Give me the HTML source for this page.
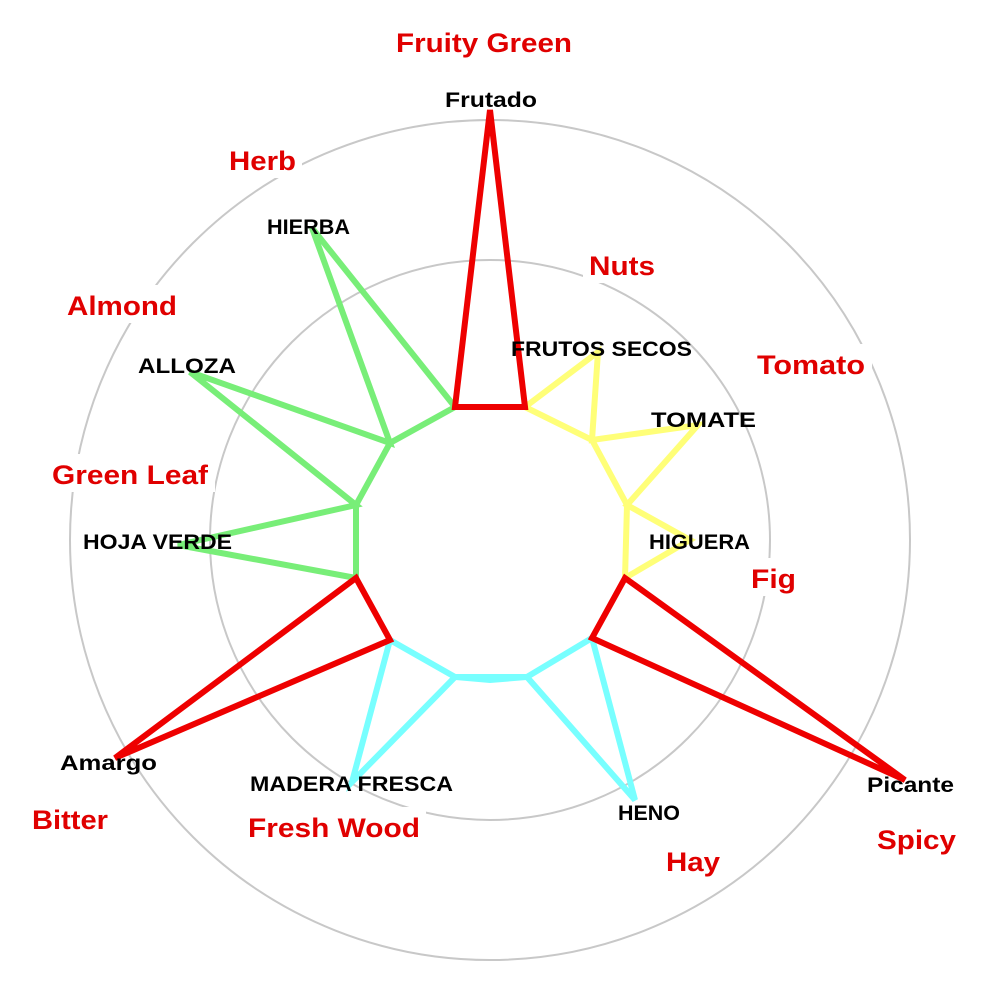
<!DOCTYPE html>
<html><head><style>
body{margin:0;background:#fff}
svg text{font-family:"Liberation Sans",Arial,sans-serif}
.r text{fill:#e00000;font-weight:bold;font-size:27px}
.k text{fill:#000;font-size:21px;font-weight:bold}
</style></head><body>
<svg width="1000" height="1000" viewBox="0 0 1000 1000">
<rect width="1000" height="1000" fill="#fff"/>
<g fill="none" stroke="#c8c8c8" stroke-width="2">
<circle cx="490" cy="540" r="420"/>
<circle cx="490" cy="540" r="280"/>
</g>
<g fill="#fff">
<rect x="390" y="22" width="190" height="38"/>
<rect x="222" y="140" width="80" height="38"/>
<rect x="583" y="245" width="78" height="38"/>
<rect x="60" y="285" width="124" height="38"/>
<rect x="750" y="344" width="122" height="38"/>
<rect x="45" y="454" width="170" height="38"/>
<rect x="745" y="558" width="58" height="38"/>
<rect x="26" y="799" width="88" height="38"/>
<rect x="242" y="807" width="184" height="38"/>
<rect x="871" y="819" width="92" height="38"/>
<rect x="660" y="841" width="66" height="38"/>
</g>
<g class="r">
<text x="396" y="52" textLength="176" lengthAdjust="spacingAndGlyphs">Fruity Green</text>
<text x="229" y="170" textLength="67" lengthAdjust="spacingAndGlyphs">Herb</text>
<text x="589" y="275" textLength="66" lengthAdjust="spacingAndGlyphs">Nuts</text>
<text x="67" y="315" textLength="110" lengthAdjust="spacingAndGlyphs">Almond</text>
<text x="757" y="374" textLength="108" lengthAdjust="spacingAndGlyphs">Tomato</text>
<text x="52" y="484" textLength="156" lengthAdjust="spacingAndGlyphs">Green Leaf</text>
<text x="751" y="588" textLength="45" lengthAdjust="spacingAndGlyphs">Fig</text>
<text x="32" y="829" textLength="76" lengthAdjust="spacingAndGlyphs">Bitter</text>
<text x="248" y="837" textLength="172" lengthAdjust="spacingAndGlyphs">Fresh Wood</text>
<text x="877" y="849" textLength="79" lengthAdjust="spacingAndGlyphs">Spicy</text>
<text x="666" y="871" textLength="54" lengthAdjust="spacingAndGlyphs">Hay</text>
</g>
<g fill="none" stroke-width="6" stroke-linejoin="miter">
<polyline stroke="#78ee78" points="356,578 178,545 356,505 190,372 390,443 312,228 455,407"/>
<polyline stroke="#78ee78" points="356,578 356,505 390,443 455,407"/>
<polyline stroke="#ffff78" points="525,407 598,352 592,440 698,425 627,505 690,540 625,578"/>
<polyline stroke="#ffff78" points="525,407 592,440 627,505 625,578"/>
<polyline stroke="#78ffff" points="592,638 635,800 527,677 455,677 352,782 390,640"/>
<polyline stroke="#78ffff" points="592,638 527,677 490,680 455,677 390,640"/>
<polygon stroke="#ee0000" points="455,407 490,110 525,407"/>
<polygon stroke="#ee0000" points="625,578 905,780 592,638"/>
<polygon stroke="#ee0000" points="390,640 115,758 356,578"/>
</g>
<g class="k">
<text x="445" y="107" textLength="92" lengthAdjust="spacingAndGlyphs">Frutado</text>
<text x="267" y="234" textLength="83" lengthAdjust="spacingAndGlyphs">HIERBA</text>
<text x="511" y="356" textLength="181" lengthAdjust="spacingAndGlyphs">FRUTOS SECOS</text>
<text x="138" y="373" textLength="98" lengthAdjust="spacingAndGlyphs">ALLOZA</text>
<text x="651" y="427" textLength="105" lengthAdjust="spacingAndGlyphs">TOMATE</text>
<text x="649" y="549" textLength="101" lengthAdjust="spacingAndGlyphs">HIGUERA</text>
<text x="83" y="549" textLength="149" lengthAdjust="spacingAndGlyphs">HOJA VERDE</text>
<text x="60" y="770" textLength="97" lengthAdjust="spacingAndGlyphs">Amargo</text>
<text x="250" y="791" textLength="203" lengthAdjust="spacingAndGlyphs">MADERA FRESCA</text>
<text x="867" y="792" textLength="87" lengthAdjust="spacingAndGlyphs">Picante</text>
<text x="618" y="820" textLength="62" lengthAdjust="spacingAndGlyphs">HENO</text>
</g>
</svg>
</body></html>
